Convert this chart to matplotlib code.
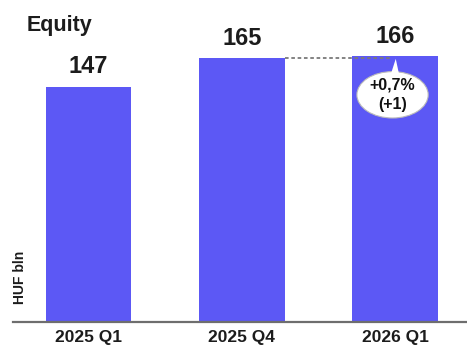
import matplotlib
matplotlib.use("Agg")
import matplotlib.pyplot as plt
from matplotlib.patches import Ellipse, Polygon

# Equity, HUF bln
periods = ["2025 Q1", "2025 Q4", "2026 Q1"]
equity = [147, 165, 166]
change_label = "+0,7%\n(+1)"

BAR_COLOR = "#5c58f5"
TEXT_COLOR = "#1c1c1c"
plt.rcParams["font.family"] = ["Liberation Sans", "DejaVu Sans"]

fig = plt.figure(figsize=(4.67, 3.47), dpi=100)
ax = fig.add_axes([13 / 467, 25 / 347, 454 / 467, 322 / 347])

x = list(range(len(periods)))
width = 0.56
ax.bar(x, equity, width=width, color=BAR_COLOR, zorder=2)

for xi, v in zip(x, equity):
    ax.annotate(f"{v}", (xi, v), xytext=(0, 6), textcoords="offset points",
                ha="center", va="bottom", fontsize=17, fontweight="bold",
                color=TEXT_COLOR)

# dotted guide from the previous quarter to the latest bar
ax.plot([x[1] + width / 2, x[2] - 0.02], [equity[1], equity[1]],
        color="#7a7a7a", lw=1.3, ls=(0, (2, 1.5)), zorder=3)

# change bubble on the latest bar
cx, cy = x[2] - 0.016, equity[2] - 24
ell = Ellipse((cx, cy), 0.465, 29, facecolor="white", edgecolor="#bbbbbb",
              lw=0.8, zorder=4)
ax.add_patch(ell)
ax.add_patch(Polygon([(x[2] - 0.025, cy + 13.5), (x[2] + 0.025, cy + 13.5),
                      (x[2] + 0.005, equity[2] - 1.5)],
                     closed=True, facecolor="white", edgecolor="none", zorder=4))
ax.text(cx, cy, change_label, ha="center", va="center", fontsize=11.5,
        fontweight="bold", color="#111111", linespacing=1.3, zorder=5)

ax.set_xlim(-0.493, 2.47)
ax.set_ylim(0, 201.25)
ax.set_xticks(x)
ax.set_xticklabels(periods, fontsize=12.5, fontweight="bold", color=TEXT_COLOR)
ax.tick_params(axis="x", length=0, pad=6)
ax.set_yticks([])
for side in ("left", "right", "top"):
    ax.spines[side].set_visible(False)
ax.spines["bottom"].set_color("#6e6e6e")
ax.spines["bottom"].set_linewidth(1.6)

fig.text(27 / 467, 1 - 25 / 347, "Equity", ha="left", va="center",
         fontsize=15.5, fontweight="bold", color=TEXT_COLOR)
fig.text(20 / 467, 1 - 277 / 347, "HUF bln", ha="center", va="center",
         rotation=90, fontsize=10, fontweight="bold", color=TEXT_COLOR)

fig.savefig("out.png", dpi=100)
